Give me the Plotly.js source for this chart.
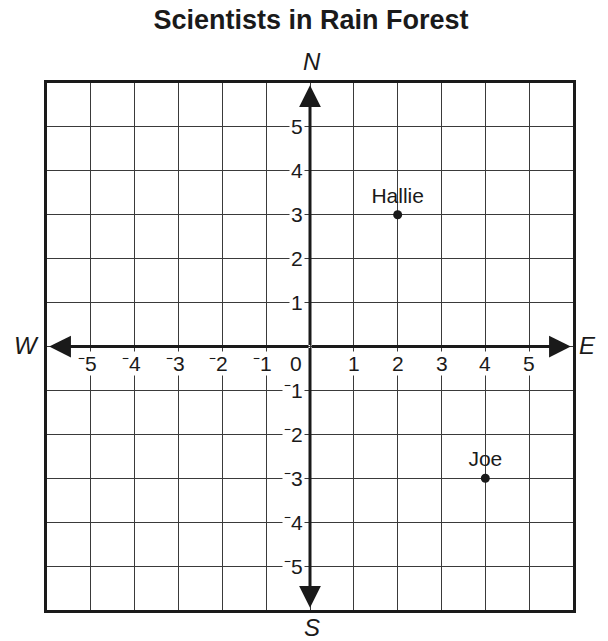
<!DOCTYPE html>
<html>
<head>
<meta charset="utf-8">
<script src="https://cdn.plot.ly/plotly-3.0.1.min.js"></script>
<style>html,body{margin:0;padding:0;background:#fff;}#chart{width:608px;height:641px;}</style>
</head>
<body>
<div id="chart"></div>
<script>
// ---- data ----
const scientistNames = ['Hallie', 'Joe'];
const scientistX = [2, 4];
const scientistY = [3, -3];
const xTickValues = [-5, -4, -3, -2, -1, 1, 2, 3, 4, 5];
const xTickLabels = ['⁻5', '⁻4', '⁻3', '⁻2', '⁻1', '1', '2', '3', '4', '5'];
const yTickValues = [5, 4, 3, 2, 1, -1, -2, -3, -4, -5];
const yTickLabels = ['5', '4', '3', '2', '1', '⁻1', '⁻2', '⁻3', '⁻4', '⁻5'];
const originLabel = '0';
const directionLabels = ['N', 'S', 'E', 'W'];
const chartTitle = 'Scientists in Rain Forest';

const FONT = 'Liberation Sans, Arial, Helvetica, sans-serif';

const annotations = [];
// axis arrows
const lim = 5.95;
[[lim, 0], [-lim, 0], [0, lim], [0, -lim]].forEach(([tx, ty]) => {
  annotations.push({
    x: tx, y: ty, ax: 0, ay: 0, xref: 'x', yref: 'y', axref: 'x', ayref: 'y',
    text: '', showarrow: true, arrowhead: 2, arrowsize: 1.45, arrowwidth: 3,
    arrowcolor: '#1a1a1a', standoff: 0, startstandoff: 0
  });
});
const lblFont = {family: FONT, size: 21, color: '#1a1a1a'};
xTickValues.forEach((v, i) => {
  annotations.push({
    x: v, y: 0, xref: 'x', yref: 'y', text: xTickLabels[i], showarrow: false,
    xanchor: 'right', yanchor: 'middle', xshift: 7, yshift: -17,
    bgcolor: '#ffffff', borderpad: 0, font: lblFont
  });
});
yTickValues.forEach((v, i) => {
  annotations.push({
    x: 0, y: v, xref: 'x', yref: 'y', text: yTickLabels[i], showarrow: false,
    xanchor: 'right', yanchor: 'middle', xshift: -5, yshift: 0,
    bgcolor: '#ffffff', borderpad: 1, font: lblFont
  });
});
annotations.push({
  x: 0, y: 0, xref: 'x', yref: 'y', text: originLabel, showarrow: false,
  xanchor: 'right', yanchor: 'middle', xshift: -7, yshift: -17,
  bgcolor: '#ffffff', borderpad: 0, font: lblFont
});
// direction letters
const dirFont = {family: FONT, size: 24, color: '#1a1a1a', style: 'italic'};
const dirPos = {
  N: {x: 0.5, y: 1, xanchor: 'center', yanchor: 'bottom', yshift: 6, xshift: 2},
  S: {x: 0.5, y: 0, xanchor: 'center', yanchor: 'top', yshift: -2, xshift: 2},
  E: {x: 1, y: 0.5, xanchor: 'left', yanchor: 'middle', xshift: 4, yshift: 1},
  W: {x: 0, y: 0.5, xanchor: 'right', yanchor: 'middle', xshift: -6, yshift: 1}
};
directionLabels.forEach(d => {
  annotations.push(Object.assign({
    xref: 'paper', yref: 'paper', text: '<i>' + d + '</i>', showarrow: false, font: dirFont
  }, dirPos[d]));
});

const trace = {
  x: scientistX, y: scientistY, text: scientistNames,
  mode: 'markers+text', type: 'scatter', textposition: 'top center',
  marker: {color: '#1a1a1a', size: 9},
  textfont: {family: FONT, size: 21, color: '#1a1a1a'},
  cliponaxis: false, hoverinfo: 'skip'
};

const axisCommon = {
  range: [-6, 6], dtick: 1, tick0: 0, showgrid: true, gridcolor: '#3a3a3a', gridwidth: 1,
  zeroline: false, showticklabels: false, ticks: '',
  showline: true, linecolor: '#1a1a1a', linewidth: 3, mirror: true, fixedrange: true
};

const layout = {
  width: 608, height: 641,
  margin: {l: 47, r: 35, t: 83, b: 31},
  paper_bgcolor: '#ffffff', plot_bgcolor: '#ffffff',
  title: {
    text: '<b>' + chartTitle + '</b>', xref: 'container', yref: 'container',
    x: 311 / 608, y: 1 - 20 / 641, xanchor: 'center', yanchor: 'middle',
    font: {family: FONT, size: 27, color: '#1a1a1a'}
  },
  xaxis: Object.assign({}, axisCommon),
  yaxis: Object.assign({}, axisCommon),
  showlegend: false, hovermode: false,
  annotations: annotations
};

Plotly.newPlot('chart', [trace], layout, {displayModeBar: false, staticPlot: true});
</script>
</body>
</html>
